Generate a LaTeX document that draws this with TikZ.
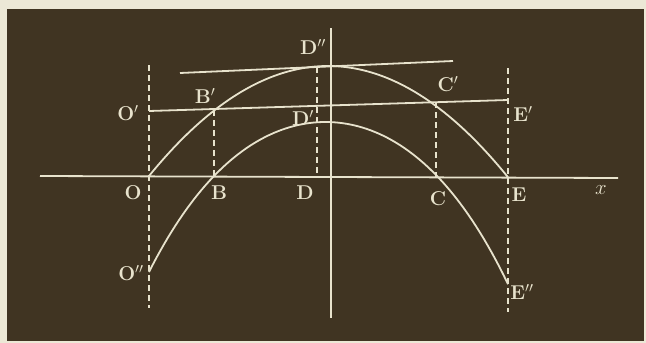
\documentclass[tikz,border=0pt]{standalone}
\usepackage{xcolor}
\usetikzlibrary{calc}
\definecolor{board}{RGB}{64,52,34}
\definecolor{chalk}{RGB}{232,227,205}
\definecolor{paper}{RGB}{236,232,214}

\begin{document}
\begin{tikzpicture}[
    x=1pt, y=-1pt,
    every node/.style={font=\fontsize{20}{22}\selectfont\bfseries, text=chalk},
    line/.style={chalk, line width=1.8pt},
    guide/.style={chalk, line width=1.6pt, dash pattern=on 6pt off 4pt},
    curve/.style={chalk, line width=1.8pt},
]
% photo frame
\fill[paper] (0,0) rectangle (646,343);
\fill[board] (7,9) rectangle (644,341);
\useasboundingbox (0,0) rectangle (646,343);
% points
\coordinate (O)   at (149,176);
\coordinate (O1)  at (149,111);
\coordinate (B)   at (214,176);
\coordinate (B1)  at (214,110);
\coordinate (D)   at (317,176);
\coordinate (D2)  at (317,67);
\coordinate (C)   at (436,177);
\coordinate (C1)  at (436,102);
\coordinate (E)   at (508,177);
\coordinate (E1)  at (508,100);
% axes
\coordinate (xl) at (40,176);
\coordinate (xr) at (618,178);
\coordinate (yt) at (331,28);
\coordinate (yb) at (331,318);
\draw[line] (xl) -- (xr);
\draw[line] (yt) -- (yb);
% dashed verticals
\draw[guide] (149,65) -- (149,308);
\draw[guide] (508,68) -- (508,312);
\draw[guide] (B1) -- (B);
\draw[guide] (D2) -- (D);
\draw[guide] (C1) -- (C);
% tangent at the top and the chord O'E'
\coordinate (tl) at (180,73);
\coordinate (tr) at (453,61);
\draw[line] (tl) -- (tr);
\draw[line] (O1) -- (E1);
% upper curve O B' D'' C' E
\draw[curve] plot[smooth, domain=149:508, samples=90]
      ({\x}, {66 + 34.33*((\x-328)/100)^2});
% lower curve O'' B D' C E''
\draw[curve] plot[smooth, domain=149:508, samples=90]
      ({\x}, {122 + 40.31*((\x-325.5)/100)^2 + 2.517*((\x-325.5)/100)^4});
% labels
\node (lD2) at (313,47)  {D$''$};
\node (lB1) at (205,96)  {B$'$};
\node (lO1) at (128,113) {O$'$};
\node (lD1) at (303,118) {D$'$};
\node (lO)  at (133,193) {O};
\node (lB)  at (219,193) {B};
\node (lD)  at (305,193) {D};
\node (lO2) at (131,273) {O$''$};
\node (lC1) at (448,84)  {C$'$};
\node (lE1) at (523,114) {E$'$};
\node (lC)  at (438,199) {C};
\node (lE)  at (519,195) {E};
\node (lx)  at (601,190) {$x$};
\node (lE2) at (522,292) {E$''$};
\end{tikzpicture}
\end{document}
